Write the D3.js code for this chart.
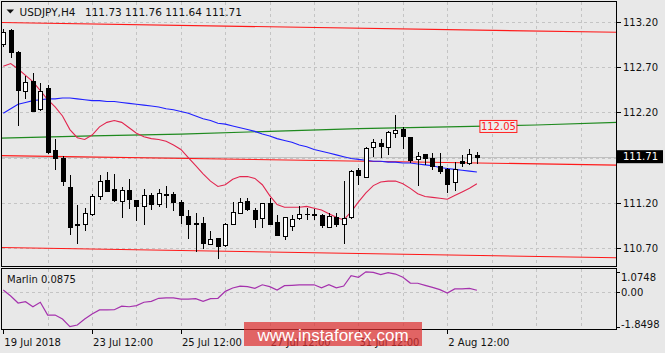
<!DOCTYPE html>
<html>
<head>
<meta charset="utf-8">
<script src="https://cdn.jsdelivr.net/npm/d3@7"></script>
<style>
  body { margin: 0; background: #e8e8e8; }
  svg { display: block; font-family: 'DejaVu Sans', sans-serif; }
</style>
</head>
<body>
<svg width="665" height="353"></svg>
<script>
// USDJPY H4, one value per bar (bar 0 = 19 Jul 2018)
const opens  = [112.96,113.11,112.87,112.44,112.55,112.24,112.47,111.78,111.70,111.38,110.96,110.96,111.08,111.27,111.45,111.35,111.22,111.34,111.23,111.16,111.29,111.19,111.29,111.30,111.21,111.05,110.97,110.98,110.74,110.81,110.73,110.97,111.09,111.22,111.12,111.03,111.20,110.99,110.83,110.94,111.03,111.08,111.08,111.06,110.93,111.04,110.96,111.04,111.56,111.49,111.82,111.86,111.82,111.97,112.02,111.93,111.68,111.74,111.70,111.61,111.57,111.43,111.66,111.64,111.73]
const highs  = [113.12,113.12,112.88,112.60,112.64,112.53,112.50,111.91,111.72,111.51,111.18,111.14,111.30,111.51,111.54,111.52,111.37,111.46,111.23,111.35,111.31,111.35,111.39,111.32,111.23,111.12,111.09,111.04,110.89,110.81,110.98,111.21,111.25,111.25,111.14,111.20,111.25,111.07,111.04,111.06,111.17,111.14,111.13,111.08,111.09,111.09,111.44,111.56,111.58,111.82,111.91,111.91,111.99,112.17,112.04,111.93,111.76,111.74,111.75,111.75,111.59,111.65,111.73,111.79,111.76]
const lows   = [112.93,112.81,112.06,112.36,112.21,112.23,111.75,111.57,111.40,110.85,110.75,110.90,111.07,111.24,111.33,111.22,111.04,111.14,111.01,110.96,111.13,111.17,111.15,111.12,110.98,110.81,110.67,110.70,110.74,110.59,110.72,110.97,111.09,111.12,110.93,110.93,110.96,110.84,110.80,110.90,111.02,111.02,111.02,110.93,110.93,110.94,110.75,111.03,111.41,111.48,111.72,111.71,111.74,111.93,111.81,111.65,111.40,111.63,111.57,111.53,111.32,111.34,111.61,111.63,111.64]
const closes = [113.09,112.87,112.45,112.54,112.22,112.44,111.76,111.70,111.44,110.93,110.95,111.09,111.28,111.44,111.33,111.23,111.34,111.24,111.17,111.29,111.19,111.31,111.30,111.21,111.06,110.97,110.98,110.75,110.80,110.72,110.97,111.10,111.21,111.13,111.02,111.20,110.97,110.84,111.04,111.02,111.08,111.08,111.07,110.95,111.05,110.96,111.03,111.55,111.51,111.81,111.87,111.83,111.98,112.01,111.94,111.67,111.72,111.70,111.61,111.55,111.41,111.57,111.64,111.74,111.71]

const blueMA = [112.19,112.24,112.29,112.31,112.33,112.34,112.35,112.35,112.36,112.36,112.35,112.34,112.33,112.33,112.32,112.32,112.31,112.30,112.29,112.28,112.27,112.26,112.24,112.23,112.21,112.19,112.16,112.13,112.11,112.08,112.07,112.05,112.03,112.01,111.99,111.96,111.94,111.91,111.89,111.87,111.84,111.82,111.79,111.77,111.75,111.73,111.71,111.69,111.68,111.67,111.66,111.66,111.65,111.65,111.64,111.64,111.63,111.62,111.61,111.59,111.58,111.57,111.56,111.55,111.54]
const crimsonLine = [112.71,112.74,112.68,112.61,112.54,112.44,112.34,112.26,112.16,112.01,111.92,111.90,111.95,112.04,112.09,112.11,112.09,112.03,111.97,111.93,111.91,111.90,111.88,111.84,111.79,111.70,111.61,111.52,111.44,111.38,111.40,111.46,111.49,111.49,111.47,111.40,111.28,111.18,111.15,111.15,111.15,111.16,111.14,111.12,111.08,111.04,111.01,111.10,111.21,111.31,111.39,111.43,111.44,111.44,111.41,111.36,111.30,111.27,111.26,111.25,111.24,111.28,111.32,111.36,111.41]

// green line and channel lines run on into the empty bars on the right
const greenBars = [-0.5, 12, 24, 36, 48, 60, 72, 83]
const greenLine = [111.915, 111.94, 111.96, 111.99, 112.02, 112.04, 112.06, 112.09]
const channelBars = [-0.5, 83]
const channelUpper = [113.194, 113.086]
const channelMiddle = [111.722, 111.617]
const channelLower = [110.706, 110.592]

const marlin = [0.10,-0.22,-0.59,-0.52,-0.79,-0.55,-1.23,-1.23,-1.44,-1.85,-1.76,-1.44,-1.17,-0.96,-0.96,-0.95,-0.76,-0.79,-0.73,-0.55,-0.50,-0.34,-0.32,-0.32,-0.38,-0.38,-0.36,-0.50,-0.36,-0.34,0.03,0.21,0.31,0.28,0.19,0.38,0.28,0.10,0.33,0.35,0.37,0.37,0.38,0.22,0.38,0.22,0.31,0.86,0.78,1.07,1.04,0.92,1.02,0.95,0.78,0.47,0.46,0.35,0.24,0.12,-0.06,0.16,0.16,0.19,0.0875]

const priceTicks = [110.70, 111.20, 111.70, 112.20, 112.70, 113.20]
const marlinTicks = [1.0748, 0, -1.8498]
const marlinTickLabels = ['1.0748', '0.00', '-1.8498']
const timeLabelBars = [0, 12, 24, 36, 48, 60]
const timeLabels = ['19 Jul 2018', '23 Jul 12:00', '25 Jul 12:00', '27 Jul 12:00', '31 Jul 12:00', '2 Aug 12:00']
const lastPrice = 111.71
const greenLabel = 112.05

const svg = d3.select('svg')
const width = +svg.attr('width')
const height = +svg.attr('height')

const left = 1.5, right = 616.5
const mainTop = 1.5, mainBottom = 266.5
const subTop = 268.5, subBottom = 329.5

const xScale = d3.scaleLinear().domain([0, 64]).range([3.3, 476.9])
const yScale = d3.scaleLinear().domain([110.7, 113.2]).range([248, 22])
const mScale = d3.scaleLinear().domain([-1.8498, 1.0748]).range([326.7, 271.7])
const px = v => Math.round(v) + 0.5

svg.append('rect').attr('width', width).attr('height', height).attr('fill', '#e8e8e8')

const defs = svg.append('defs')
defs.append('clipPath').attr('id', 'clip-main').append('rect')
    .attr('x', left).attr('y', mainTop).attr('width', right - left).attr('height', mainBottom - mainTop)
defs.append('clipPath').attr('id', 'clip-sub').append('rect')
    .attr('x', left).attr('y', subTop).attr('width', right - left).attr('height', subBottom - subTop)

// grid
const gridColor = '#c4c4c4'
const gridBars = d3.range(6, 83, 6)
const grid = svg.append('g').attr('stroke', gridColor).attr('stroke-dasharray', '3,3').attr('shape-rendering', 'crispEdges')
grid.selectAll('.gv').data(gridBars).enter().append('line')
    .attr('x1', d => px(xScale(d))).attr('x2', d => px(xScale(d)))
    .attr('y1', mainTop).attr('y2', mainBottom)
grid.selectAll('.gs').data(gridBars).enter().append('line')
    .attr('x1', d => px(xScale(d))).attr('x2', d => px(xScale(d)))
    .attr('y1', subTop).attr('y2', subBottom)
grid.selectAll('.gh').data(priceTicks).enter().append('line')
    .attr('x1', left).attr('x2', right)
    .attr('y1', d => px(yScale(d))).attr('y2', d => px(yScale(d)))
grid.append('line').attr('x1', left).attr('x2', right)
    .attr('y1', px(mScale(0))).attr('y2', px(mScale(0)))

const plot = svg.append('g').attr('clip-path', 'url(#clip-main)')

// bid line
plot.append('line').attr('x1', left).attr('x2', right)
    .attr('y1', px(yScale(lastPrice))).attr('y2', px(yScale(lastPrice)))
    .attr('stroke', '#c0c0c0').attr('shape-rendering', 'crispEdges')

const lineOn = (xs) => d3.line().x((d, i) => xScale(xs ? xs[i] : i)).y(d => yScale(d))

const drawLine = (values, xs, color) => plot.append('path')
    .datum(values)
    .attr('d', lineOn(xs))
    .attr('fill', 'none')
    .attr('stroke', color)
    .attr('stroke-width', 1.1)

drawLine(channelUpper, channelBars, '#ff1a1a')
drawLine(channelMiddle, channelBars, '#ff1a1a')
drawLine(channelLower, channelBars, '#ff1a1a')
drawLine(greenLine, greenBars, '#1f8a1f')
drawLine(blueMA, null, '#2020ff')
drawLine(crimsonLine, null, '#e2264f')

// candles
const bars = opens.map((o, i) => ({ i, o, h: highs[i], l: lows[i], c: closes[i] }))
const candles = plot.append('g').attr('shape-rendering', 'crispEdges')
candles.selectAll('line').data(bars).enter().append('line')
    .attr('x1', d => px(xScale(d.i))).attr('x2', d => px(xScale(d.i)))
    .attr('y1', d => Math.round(yScale(d.h))).attr('y2', d => Math.round(yScale(d.l)) + 1)
    .attr('stroke', '#000')
candles.selectAll('rect').data(bars).enter().append('rect')
    .attr('x', d => px(xScale(d.i)) - 2)
    .attr('width', 4)
    .attr('y', d => px(yScale(Math.max(d.o, d.c))))
    .attr('height', d => Math.max(0.01, Math.round(yScale(Math.min(d.o, d.c))) - Math.round(yScale(Math.max(d.o, d.c)))))
    .attr('fill', d => d.c >= d.o ? '#fff' : '#000')
    .attr('stroke', '#000')

// marlin
svg.append('g').attr('clip-path', 'url(#clip-sub)').append('path')
    .datum(marlin)
    .attr('d', d3.line().x((d, i) => xScale(i)).y(d => mScale(d)))
    .attr('fill', 'none')
    .attr('stroke', '#a532ad')
    .attr('stroke-width', 1.2)

// panel borders
svg.append('rect').attr('x', left).attr('y', mainTop).attr('width', right - left).attr('height', mainBottom - mainTop)
    .attr('fill', 'none').attr('stroke', '#000').attr('shape-rendering', 'crispEdges')
svg.append('rect').attr('x', left).attr('y', subTop).attr('width', right - left).attr('height', subBottom - subTop)
    .attr('fill', 'none').attr('stroke', '#000').attr('shape-rendering', 'crispEdges')

// axes
const styleAxis = g => {
    g.select('.domain').remove()
    g.selectAll('line').attr('stroke', '#000').attr('shape-rendering', 'crispEdges')
    g.selectAll('text').attr('fill', '#111').attr('font-size', 10).attr('font-family', "'DejaVu Sans', sans-serif")
}

svg.append('g').attr('transform', `translate(${right}, 0)`)
    .call(d3.axisRight(yScale).tickValues(priceTicks).tickFormat(d3.format('.2f')).tickSize(4).tickPadding(2.5))
    .call(styleAxis)

const mAxis = svg.append('g').attr('transform', `translate(${right}, 0)`)
    .call(d3.axisRight(mScale).tickValues(marlinTicks).tickFormat((d, i) => marlinTickLabels[i]).tickSize(3).tickPadding(1.5))
    .call(styleAxis)
mAxis.selectAll('.tick text').attr('dy', (d, i) => i === 0 ? '0.9em' : i === 2 ? '0.1em' : '0.32em')

svg.append('g').attr('transform', `translate(0, ${subBottom})`)
    .call(d3.axisBottom(xScale).tickValues(timeLabelBars).tickFormat((d, i) => timeLabels[i]).tickSize(4).tickPadding(4))
    .call(styleAxis)
    .selectAll('.tick text').attr('text-anchor', 'start').attr('dx', 0.5).attr('dy', '0.85em')

// last price label
const lp = svg.append('g').attr('transform', `translate(${right + 0.5}, ${yScale(lastPrice)})`)
lp.append('rect').attr('x', 0).attr('y', -6.5).attr('width', 46).attr('height', 13).attr('fill', '#000')
lp.append('text').attr('x', 6).attr('dy', '0.35em').attr('fill', '#fff').attr('font-size', 10)
    .text(d3.format('.2f')(lastPrice))

// green line value label
const gl = svg.append('g').attr('transform', `translate(${xScale(64) + 2.5}, ${yScale(greenLabel)})`)
gl.append('rect').attr('x', 0.5).attr('y', -5.5).attr('width', 37).attr('height', 12)
    .attr('fill', '#ececec').attr('stroke', '#ff2020')
gl.append('text').attr('x', 19).attr('dy', '0.38em').attr('text-anchor', 'middle')
    .attr('fill', '#ff2020').attr('font-size', 10).text(d3.format('.2f')(greenLabel))

// titles
svg.append('path').attr('d', 'M6.5,9.5 L14,9.5 L10.25,13.5 Z').attr('fill', '#111')
svg.append('text').attr('x', 19.5).attr('y', 16).attr('font-size', 10.5).attr('fill', '#111').text('USDJPY,H4')
svg.append('text').attr('x', 85).attr('y', 16).attr('font-size', 10.5).attr('fill', '#111')
    .text([opens[64], highs[64], lows[64], closes[64]].map(d3.format('.2f')).join(' '))
svg.append('text').attr('x', 7).attr('y', 282.5).attr('font-size', 10).attr('fill', '#111')
    .text('Marlin ' + d3.format('.4f')(marlin[64]))

// watermark
svg.append('rect').attr('x', 244).attr('y', 322).attr('width', 178).attr('height', 24)
    .attr('fill', 'rgba(222, 48, 48, 0.72)')
svg.append('text').attr('x', 333).attr('y', 340.5).attr('text-anchor', 'middle')
    .attr('font-family', "'Liberation Sans', Arial, sans-serif").attr('font-size', 17).attr('fill', '#fff')
    .text('www.instaforex.com')
</script>
</body>
</html>
